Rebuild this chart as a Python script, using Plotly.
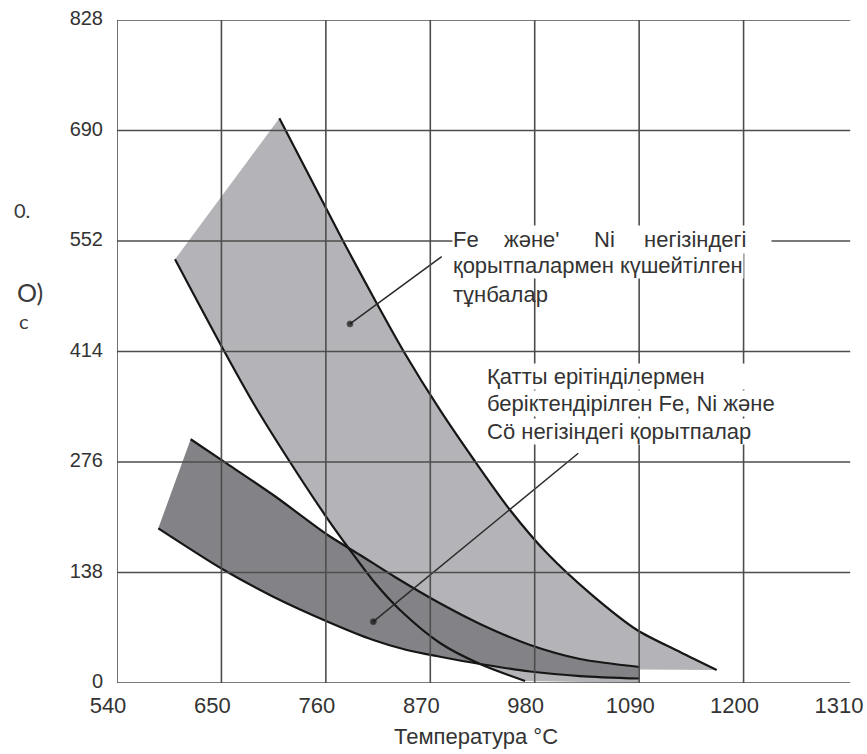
import plotly.graph_objects as go

# ---------------- data ----------------
x_ticks = [540, 650, 760, 870, 980, 1090, 1200, 1310]
y_ticks = [0, 138, 276, 414, 552, 690, 828]

# precipitation-hardened alloys band (light grey)
light_right_x = [711.0, 779.1, 812.8, 842.3, 880.2, 916.1, 954.0, 993.0, 1038.3, 1087.8, 1133.1, 1171.7]
light_right_y = [705.3, 549.9, 475.8, 413.4, 341.0, 278.5, 216.1, 162.0, 112.0, 66.2, 38.7, 16.2]
light_left_x = [601.1, 651.7, 685.4, 722.2, 759.1, 785.4, 811.8, 838.1, 880.2, 922.4, 969.8]
light_left_y = [529.2, 417.1, 345.9, 276.0, 209.8, 166.1, 124.9, 91.2, 50.0, 23.7, 2.5]
light_base_x = [1090, 1090]
light_base_y = [17, 0]

# solid-solution strengthened alloys band (dark grey)
dark_top_x = [617.6, 652.7, 704.6, 762.0, 796.0, 832.8, 880.2, 922.4, 975.1, 1027.7, 1090.9]
dark_top_y = [304.4, 276.4, 234.8, 184.8, 159.9, 132.4, 99.5, 73.7, 47.5, 30.0, 20.0]
dark_bot_x = [583.5, 652.7, 704.6, 762.0, 810.0, 845.2, 880.2, 922.4, 975.1, 1027.7, 1090.9]
dark_bot_y = [193.2, 141.1, 107.8, 76.6, 53.7, 41.2, 32.8, 23.7, 14.4, 8.7, 5.6]

# leader lines (dot -> label)
leader1_x = [785.4, 882.0]
leader1_y = [448.4, 532.4]
leader2_x = [810.0, 1025.9]
leader2_y = [76.6, 286.9]

# texts
label1_words = ["Fe", "және'", "Ni", "негізіндегі"]
label1_word_x = [892.9, 946.6, 1041.4, 1094.1]
label1_lines = ["қорытпалармен күшейтілген", "тұнбалар"]
label2_lines = ["Қатты ерітінділермен",
                "беріктендірілген Fe, Ni және",
                "Cö негізіндегі қорытпалар"]
x_title = "Температура °C"
y_title_parts = ["0.", "O)", "c"]

# ---------------- styles ----------------
LIGHT = "#b4b4b8"
DARK = "#838387"
EDGE = "#161616"
GRID = "#4d4d4d"
TXT = "#333333"
FONT = "Liberation Sans, Arial, sans-serif"
FS = 22

fig = go.Figure()

# light band fill
fig.add_trace(go.Scatter(
    x=light_right_x + light_base_x + light_left_x[::-1],
    y=light_right_y + light_base_y + light_left_y[::-1],
    mode="lines", fill="toself", fillcolor=LIGHT, line=dict(width=0),
    hoverinfo="skip", showlegend=False))

# dark band fill
fig.add_trace(go.Scatter(
    x=dark_top_x + dark_bot_x[::-1],
    y=dark_top_y + dark_bot_y[::-1],
    mode="lines", fill="toself", fillcolor=DARK, line=dict(width=0),
    hoverinfo="skip", showlegend=False))

# outlines
for xs, ys in [(light_right_x, light_right_y), (light_left_x, light_left_y),
               (dark_top_x, dark_top_y), (dark_bot_x, dark_bot_y)]:
    fig.add_trace(go.Scatter(x=xs, y=ys, mode="lines",
                             line=dict(color=EDGE, width=2.2, shape="spline", smoothing=0.8),
                             hoverinfo="skip", showlegend=False))

# leader lines with dots
for xs, ys in [(leader1_x, leader1_y), (leader2_x, leader2_y)]:
    fig.add_trace(go.Scatter(x=xs, y=ys, mode="lines+markers",
                             line=dict(color="#2a2a2a", width=1.5),
                             marker=dict(size=[6, 0], color="#111111"),
                             hoverinfo="skip", showlegend=False))

# grid lines drawn above the filled bands
shapes = []
for xv in x_ticks[:-1]:
    shapes.append(dict(type="line", xref="x", yref="paper", x0=xv, x1=xv, y0=0, y1=1,
                       line=dict(color=GRID, width=1.6), layer="above"))
for yv in y_ticks:
    shapes.append(dict(type="line", xref="paper", yref="y", x0=0, x1=1.003, y0=yv, y1=yv,
                       line=dict(color=GRID, width=1.6), layer="above"))

annotations = []
txtfont = dict(family=FONT, size=FS, color=TXT)
# label 1: white strip behind first line, then justified words
annotations.append(dict(x=892.9, y=554.5, xref="x", yref="y", xanchor="left", yanchor="middle",
                        text="\u00a0", showarrow=False, width=318, height=27,
                        bgcolor="white", borderpad=0, font=txtfont))
for w, xv in zip(label1_words, label1_word_x):
    annotations.append(dict(x=xv, y=554.5, xref="x", yref="y", xanchor="left", yanchor="middle",
                            text=w, showarrow=False, borderpad=0, font=txtfont))
annotations.append(dict(x=892.9, y=520.8, xref="x", yref="y", xanchor="left", yanchor="middle",
                        text=label1_lines[0], showarrow=False, align="left",
                        bgcolor="white", borderpad=0, font=txtfont))
annotations.append(dict(x=892.9, y=485.8, xref="x", yref="y", xanchor="left", yanchor="middle",
                        text=label1_lines[1], showarrow=False, align="left", borderpad=0,
                        font=txtfont))
# label 2
for t, yv in zip(label2_lines, [382.2, 349.1, 313.5]):
    annotations.append(dict(x=928.5, y=yv, xref="x", yref="y", xanchor="left", yanchor="middle",
                            text=t, showarrow=False, align="left", width=300,
                            bgcolor="white", borderpad=0, font=txtfont))
# axis title
annotations.append(dict(x=0.4911, y=-0.0814, xref="paper", yref="paper", xanchor="center",
                        yanchor="middle", text=x_title, showarrow=False, font=txtfont))
# garbled y-axis title fragments
for t, xp, yp, sz in zip(y_title_parts, [-0.1304, -0.119, -0.1272], [0.7134, 0.5897, 0.546], [20, 25, 20]):
    annotations.append(dict(x=xp, y=yp, xref="paper", yref="paper", xanchor="center", yanchor="middle",
                            text=t, showarrow=False,
                            font=dict(family="Lato, Open Sans, sans-serif", size=sz, color="#3a3a3a")))

fig.update_layout(
    width=867, height=754,
    margin=dict(l=117, r=19, t=20, b=71),
    paper_bgcolor="white", plot_bgcolor="white",
    shapes=shapes, annotations=annotations, showlegend=False,
)
fig.update_xaxes(range=[540, 1310], tickvals=x_ticks, ticktext=[str(v) for v in x_ticks],
                 showgrid=False, zeroline=False, showline=False, ticks="",
                 tickfont=dict(family=FONT, size=FS, color=TXT),
                 ticklabelshift=-9, ticklabelstandoff=7, automargin=False)
fig.update_yaxes(range=[0, 828], tickvals=y_ticks, ticktext=[str(v) for v in y_ticks],
                 showgrid=False, zeroline=False, showline=False, ticks="",
                 tickfont=dict(family=FONT, size=20, color=TXT),
                 ticklabelstandoff=13, ticklabelshift=-2, automargin=False)

fig.write_html("out.html")
